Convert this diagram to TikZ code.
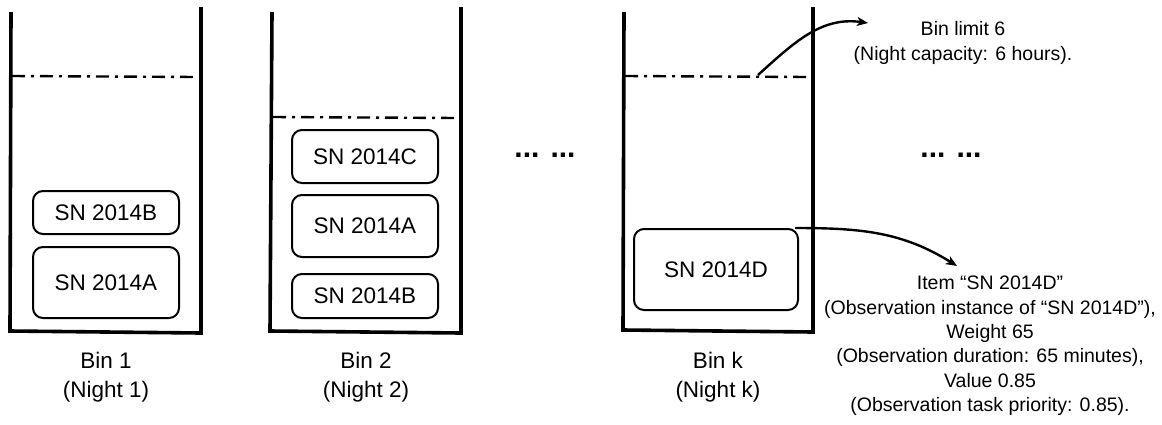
\documentclass[tikz,border=0pt]{standalone}
\usepackage{fontspec}
\setmainfont{Liberation Sans}
\usetikzlibrary{arrows.meta}
\begin{document}
\begin{tikzpicture}[x=1pt,y=1pt,
  wall/.style={line width=3.6pt,line join=miter},
  item/.style={draw,line width=2pt,rounded corners=10pt,inner sep=0pt,
    font=\fontsize{22.5}{27}\selectfont},
  limit/.style={line width=2.4pt,dash pattern=on 13pt off 6pt on 3pt off 6pt},
  binlabel/.style={align=center,inner sep=0pt,font=\fontsize{22.5}{29}\selectfont},
  note/.style={align=center,inner sep=0pt,font=\fontsize{19.5}{24.4}\selectfont},
  dots/.style={inner sep=0pt,font=\fontsize{30}{30}\selectfont\bfseries},
  pointer/.style={line width=2.4pt,-{Stealth[length=11pt,width=9pt,inset=3pt]}}]
\useasboundingbox (0,0) rectangle (1162,-424);

% bins
\draw[wall] (11,-12) -- (10,-331) -- (201,-333) -- (201,-7);
\draw[wall] (272,-12) -- (270,-331) -- (461,-333) -- (461,-7);
\draw[wall] (624,-12) -- (623,-330) -- (813,-332) -- (813,-7);

% limits
\draw[limit] (12,-76) -- (197,-77);
\draw[limit] (273,-117) -- (457,-118);
\draw[limit] (625,-76) -- (808,-77);
\coordinate (limk) at (758,-75);

% items bin 1
\node[item,minimum width=146pt,minimum height=43pt] (b1B) at (106,-212.5) {SN 2014B};
\node[item,minimum width=146pt,minimum height=71pt] (b1A) at (106,-282.5) {SN 2014A};
% items bin 2
\node[item,minimum width=146pt,minimum height=53pt] (b2C) at (365,-156.5) {SN 2014C};
\node[item,minimum width=146pt,minimum height=62pt] (b2A) at (365,-226) {SN 2014A};
\node[item,minimum width=146pt,minimum height=44pt] (b2B) at (365,-296) {SN 2014B};
% item bin k
\node[item,minimum width=164pt,minimum height=81pt] (bkD) at (716,-269.5) {SN 2014D};

% bin labels
\node[binlabel] (l1) at (106,-377) {Bin 1\\(Night 1)};
\node[binlabel] (l2) at (366,-377) {Bin 2\\(Night 2)};
\node[binlabel] (lk) at (718,-377) {Bin k\\(Night k)};

% dots
\node[dots] (d1) at (545,-155) {... ...};
\node[dots] (d2) at (951,-155) {... ...};

% notes
\node[note] (limtext) at (963,-43) {Bin limit 6\\(Night capacity: 6 hours).};
\node[note] (info) at (990,-346) {Item “SN 2014D”\\(Observation instance of “SN 2014D”),\\Weight 65\\(Observation duration: 65 minutes),\\Value 0.85\\(Observation task priority: 0.85).};

\coordinate (limtip) at (868,-23);
\coordinate (infotip) at (957,-266);

\draw[pointer] (limk) to[out=42,in=172] (limtip);
\draw[pointer] ([xshift=-4pt]bkD.north east) to[out=0,in=148] (infotip);
\end{tikzpicture}
\end{document}
